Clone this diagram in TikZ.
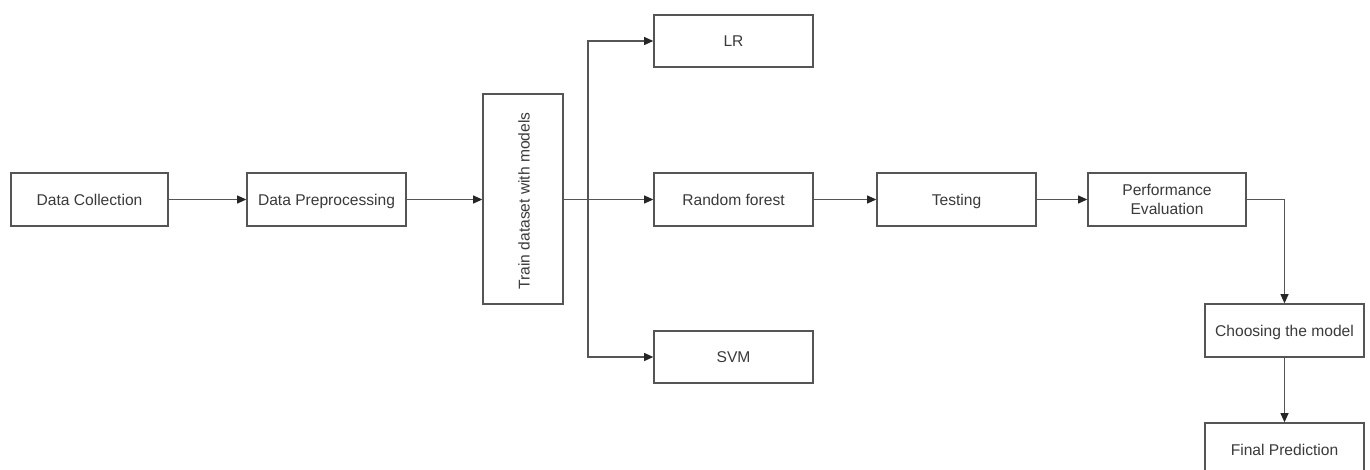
\documentclass[tikz,border=0pt]{standalone}
\usepackage{fontspec}
\setmainfont{Liberation Sans}
\usetikzlibrary{arrows.meta,calc}
\definecolor{edge}{HTML}{555555}
\definecolor{txt}{HTML}{3A3A3A}
\begin{document}
\begin{tikzpicture}[x=0.75pt,y=-0.75pt,
  box/.style={draw=edge,line width=1pt,fill=white,inner sep=2pt,align=center,
    text=txt,font=\fontsize{11.7}{14.3}\selectfont,
    minimum width=119.25pt,minimum height=39.75pt},
  one/.style={text height=8.4pt,text depth=0pt},
  arr/.style={draw=edge,line width=1.1pt,-{Triangle[length=7pt,width=6pt,fill=black!85,color=black!85]}}]
\useasboundingbox (0,0) rectangle (1370,470);
\fill[white] (0,0) rectangle (1370,470);
\node[box,one,minimum width=117.75pt] (dc) at (89.5,199.5) {Data Collection};
\node[box,one] (dp) at (326.5,199.5) {Data Preprocessing};
\node[box,minimum width=60pt,minimum height=157.5pt] (tr) at (523,199) {};
\node[text=txt,font=\fontsize{11.7}{14.3}\selectfont,rotate=90,text height=8.4pt,text depth=0pt] (trt) at (524,201) {Train dataset with models};
\node[box,one,minimum height=39pt] (lr) at (733.5,41) {LR};
\node[box,one] (rf) at (733.5,199.5) {Random forest};
\node[box,one,minimum height=39pt] (svm) at (733.5,357) {SVM};
\node[box,one] (te) at (956.5,199.5) {Testing};
\node[box,minimum width=118.5pt] (pe) at (1167,199.5) {Performance\\Evaluation};
\node[box,one] (ch) at (1284.5,330.5) {Choosing the model};
\node[box,one] (fp) at (1284.5,449.5) {Final Prediction};
\coordinate (br) at (588,199.5);
\draw[arr] (dc.east) -- (dp.west);
\draw[arr] (dp.east) -- (dp.east -| tr.west);
\draw[arr] (tr.east |- rf.west) -- (rf.west);
\draw[arr] (br) |- (lr.west);
\draw[arr] (br) |- (svm.west);
\draw[arr] (rf.east) -- (te.west);
\draw[arr] (te.east) -- (pe.west);
\draw[arr] (pe.east) -| (ch.north);
\draw[arr] (ch.south) -- (fp.north);
\end{tikzpicture}
\end{document}
